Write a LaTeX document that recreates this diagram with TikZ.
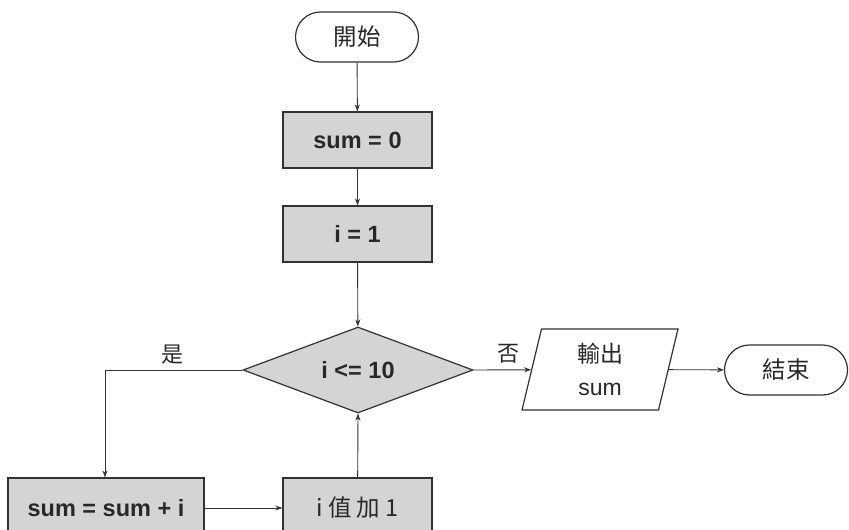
\documentclass[tikz,border=0pt]{standalone}
\usepackage{fontspec}
\setmainfont{Liberation Sans}
\newfontfamily\cjk{Noto Sans CJK TC}
\usetikzlibrary{shapes.geometric,arrows.meta}
\definecolor{boxfill}{RGB}{212,212,212}
\definecolor{linec}{RGB}{50,50,50}
\definecolor{textc}{RGB}{40,40,40}
\begin{document}
\begin{tikzpicture}[x=1pt,y=-1pt,
  every node/.style={text=textc},
  base/.style={draw=linec,line width=1.2pt,inner sep=0pt,font=\fontsize{23.5}{26}\selectfont},
  procbox/.style={base,rectangle,fill=boxfill,minimum width=149pt,minimum height=56pt,font=\fontsize{23.5}{26}\selectfont\bfseries},
  term/.style={base,rectangle,rounded corners=25pt,minimum height=50pt,font=\fontsize{23.5}{26}\selectfont\cjk},
  decision/.style={base,diamond,fill=boxfill,minimum width=230pt,minimum height=86pt,shape aspect=2.67,font=\fontsize{23.5}{26}\selectfont\bfseries},
  iobox/.style={base,trapezium,trapezium left angle=69.7,trapezium right angle=110.3,minimum width=156pt,minimum height=81pt,trapezium stretches body,align=center,font=\fontsize{23}{33}\selectfont},
  conn/.style={draw=linec,line width=0.9pt,-{Stealth[length=7pt,width=5pt]}},
  lbl/.style={font=\fontsize{22}{24}\selectfont\cjk}
]
\useasboundingbox (0,0) rectangle (849,530);
\fill[white] (0,0) rectangle (849,530);
\clip (0,0) rectangle (849,530);

\node[term,minimum width=123pt] (start) at (357,37) {開始};
\node[procbox] (s0) at (357.5,140) {sum = 0};
\node[procbox] (i1) at (357.5,234) {i = 1};
\node[decision] (dec) at (358,370) {i <= 10};
\node[iobox] (out) at (600,369.5) {{\cjk 輸出}\\sum};
\node[term,minimum width=123pt] (end) at (786,370) {結束};
\node[procbox,minimum width=196pt,minimum height=60pt] (add) at (106,508) {sum = sum + i};
\node[procbox,minimum height=60pt,font=\fontsize{23.5}{26}\selectfont\cjk] (inc) at (357.5,508) {i 值 加 1};

\coordinate (corner) at (105,370);

\draw[conn] (start) -- (s0);
\draw[conn] (s0) -- (i1);
\draw[conn] (i1) -- (dec);
\draw[conn] (dec.east) -- (out);
\draw[conn] (out) -- (end);
\draw[conn] (dec.west) -- (corner) -- (add.north -| corner);
\draw[conn] (add) -- (inc);
\draw[conn] (inc) -- (dec.south);

\node[lbl] (yes) at (172,355) {是};
\node[lbl] (no) at (508,354) {否};
\end{tikzpicture}
\end{document}
